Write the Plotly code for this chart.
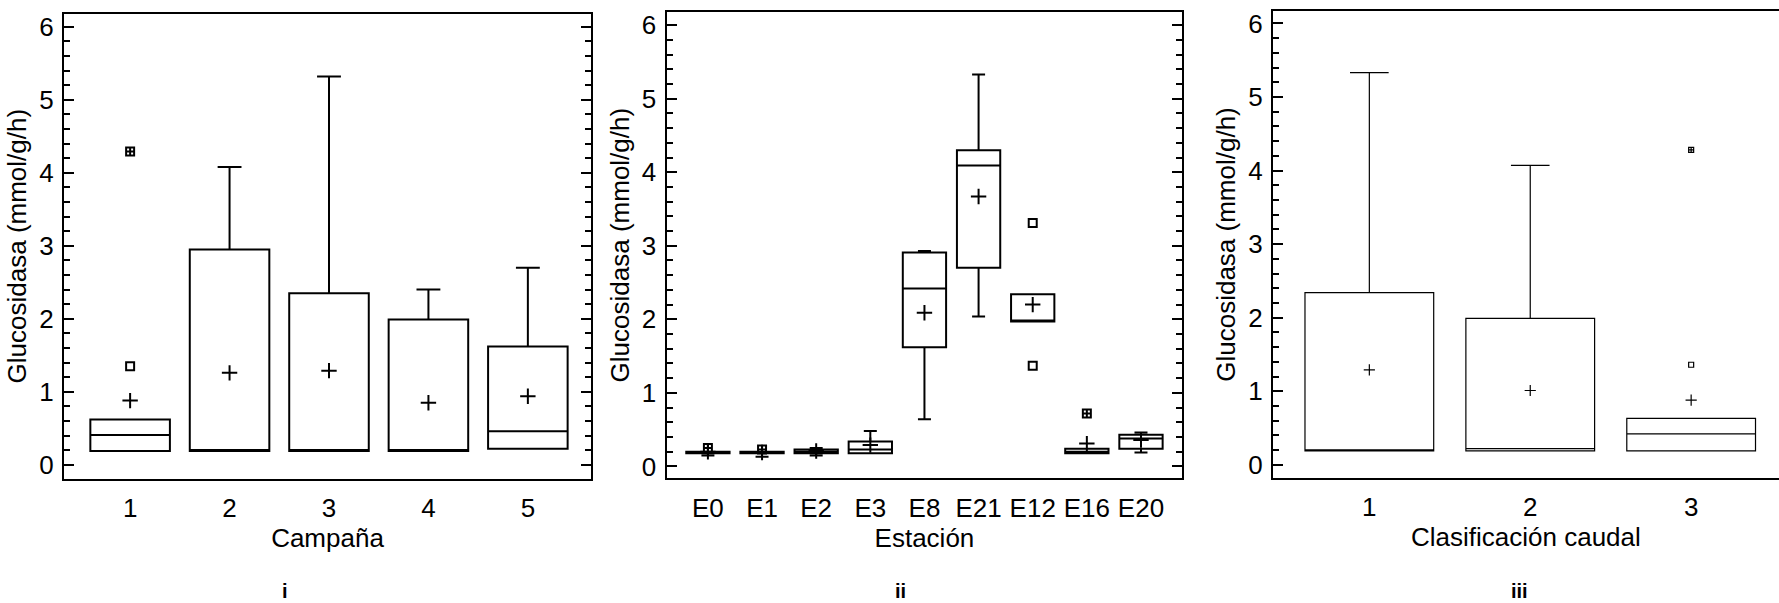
import plotly.graph_objects as go

# ---- Panel i: Campaña ----
camp_labels = ["1", "2", "3", "4", "5"]
camp_q1 = [0.19, 0.19, 0.19, 0.19, 0.22]
camp_median = [0.41, 0.19, 0.19, 0.20, 0.46]
camp_q3 = [0.62, 2.95, 2.35, 1.99, 1.62]
camp_low = [0.19, 0.19, 0.19, 0.19, 0.22]
camp_high = [0.62, 4.08, 5.32, 2.40, 2.70]
camp_mean = [0.88, 1.26, 1.29, 0.85, 0.94]
camp_out_x = ["1"]
camp_out_y = [1.35]
camp_far_x = ["1"]
camp_far_y = [4.29]

# ---- Panel ii: Estación ----
est_labels = ["E0", "E1", "E2", "E3", "E8", "E21", "E12", "E16", "E20"]
est_q1 = [0.18, 0.18, 0.18, 0.18, 1.62, 2.70, 1.97, 0.18, 0.24]
est_median = [0.19, 0.19, 0.20, 0.23, 2.42, 4.09, 1.97, 0.20, 0.38]
est_q3 = [0.20, 0.20, 0.23, 0.34, 2.91, 4.30, 2.34, 0.24, 0.43]
est_low = [0.15, 0.13, 0.15, 0.18, 0.64, 2.04, 1.97, 0.18, 0.19]
est_high = [0.20, 0.20, 0.25, 0.48, 2.93, 5.33, 2.34, 0.24, 0.46]
est_mean = [0.20, 0.19, 0.21, 0.29, 2.09, 3.67, 2.20, 0.31, 0.36]
est_out_x = ["E12", "E12"]
est_out_y = [3.31, 1.37]
est_far_x = ["E0", "E1", "E16"]
est_far_y = [0.25, 0.23, 0.72]

# ---- Panel iii: Clasificación caudal ----
cau_labels = ["1", "2", "3"]
cau_q1 = [0.19, 0.19, 0.19]
cau_median = [0.19, 0.22, 0.42]
cau_q3 = [2.34, 1.99, 0.63]
cau_low = [0.19, 0.19, 0.19]
cau_high = [5.33, 4.07, 0.63]
cau_mean = [1.29, 1.01, 0.88]
cau_out_x = ["3"]
cau_out_y = [1.36]
cau_far_x = ["3"]
cau_far_y = [4.28]

W, H = 1779, 603
FONT = "Arial, Liberation Sans, Helvetica, sans-serif"
FS = 26
Y_TITLE = "Glucosidasa (mmol/g/h)"

fig = go.Figure()


def add_panel(n, labels, q1, med, q3, lo, hi, mean, ox, oy, fx, fy, lw, msize):
    ax = "" if n == 1 else str(n)
    xa, ya = "x" + ax, "y" + ax
    # boxes from precomputed quartiles and whisker ends
    fig.add_trace(go.Box(
        x=labels, q1=q1, median=med, q3=q3, lowerfence=lo, upperfence=hi,
        boxpoints=False, width=0.8, whiskerwidth=0.3,
        line=dict(color="black", width=lw), fillcolor="white",
        showlegend=False, hoverinfo="skip", xaxis=xa, yaxis=ya,
    ))
    # means
    fig.add_trace(go.Scatter(
        x=labels, y=mean, mode="markers", showlegend=False, hoverinfo="skip",
        marker=dict(symbol="cross-thin", size=msize + 3,
                    line=dict(color="black", width=lw)),
        xaxis=xa, yaxis=ya,
    ))
    # outliers
    fig.add_trace(go.Scatter(
        x=ox, y=oy, mode="markers", showlegend=False, hoverinfo="skip",
        marker=dict(symbol="square-open", size=msize, color="black",
                    line=dict(color="black", width=lw)),
        xaxis=xa, yaxis=ya,
    ))
    # far outliers
    fig.add_trace(go.Scatter(
        x=fx, y=fy, mode="markers", showlegend=False, hoverinfo="skip",
        marker=dict(symbol="square-cross-open", size=msize, color="black",
                    line=dict(color="black", width=lw)),
        xaxis=xa, yaxis=ya,
    ))


add_panel(1, camp_labels, camp_q1, camp_median, camp_q3, camp_low, camp_high,
          camp_mean, camp_out_x, camp_out_y, camp_far_x, camp_far_y, 2, 8)
add_panel(2, est_labels, est_q1, est_median, est_q3, est_low, est_high,
          est_mean, est_out_x, est_out_y, est_far_x, est_far_y, 2, 8)
add_panel(3, cau_labels, cau_q1, cau_median, cau_q3, cau_low, cau_high,
          cau_mean, cau_out_x, cau_out_y, cau_far_x, cau_far_y, 1.2, 5)


def xaxis(domain, rng, title, anchor):
    return dict(
        domain=domain, range=rng, type="category", anchor=anchor,
        showline=True, linecolor="black", linewidth=2, mirror=True,
        ticks="", showgrid=False, zeroline=False,
        tickfont=dict(family=FONT, size=FS, color="black"),
        ticklabelstandoff=5,
        title=dict(text=title, font=dict(family=FONT, size=FS, color="black"),
                   standoff=3),
    )


def yaxis(domain, rng, anchor, mirror):
    return dict(
        domain=domain, range=rng, anchor=anchor,
        showline=True, linecolor="black", linewidth=2, mirror=mirror,
        ticks="inside", ticklen=10, tickwidth=2, tickcolor="black",
        dtick=1, tick0=0, showgrid=False, zeroline=False,
        minor=dict(dtick=0.2, tick0=0, ticks="inside", ticklen=6,
                   tickwidth=2, tickcolor="black", showgrid=False),
        tickfont=dict(family=FONT, size=FS, color="black"),
        ticklabelstandoff=3,
        title=dict(text=Y_TITLE, font=dict(family=FONT, size=FS, color="black"),
                   standoff=5),
    )


def px_x(a, b):
    return [a / W, b / W]


def px_y(top, bottom):
    return [1 - bottom / H, 1 - top / H]


fig.update_layout(
    width=W, height=H,
    margin=dict(l=0, r=0, t=0, b=0),
    paper_bgcolor="white", plot_bgcolor="white",
    font=dict(family=FONT, color="black"),
    xaxis=xaxis(px_x(64, 591), [-0.665, 4.635], "Campaña", "y"),
    yaxis=yaxis(px_y(11.7, 480.7), [-0.19, 6.18], "x", "allticks"),
    xaxis2=xaxis(px_x(666.5, 1182.4), [-0.765, 8.765], "Estación", "y2"),
    yaxis2=yaxis(px_y(10, 480.3), [-0.162, 6.18], "x2", "allticks"),
    xaxis3=xaxis(px_x(1272.8, 1779), [-0.6, 2.546], "Clasificación caudal", "y3"),
    yaxis3=yaxis(px_y(9, 480), [-0.18, 6.17], "x3", False),
)

# panel captions
for label, xc in [("i", 285), ("ii", 900), ("iii", 1519)]:
    fig.add_annotation(
        text=f"<b>{label}</b>", x=xc / W, y=(H - 594) / H,
        xref="paper", yref="paper", xanchor="center", yanchor="middle",
        showarrow=False, font=dict(family=FONT, size=20, color="black"),
    )

fig.write_html("out.html")
